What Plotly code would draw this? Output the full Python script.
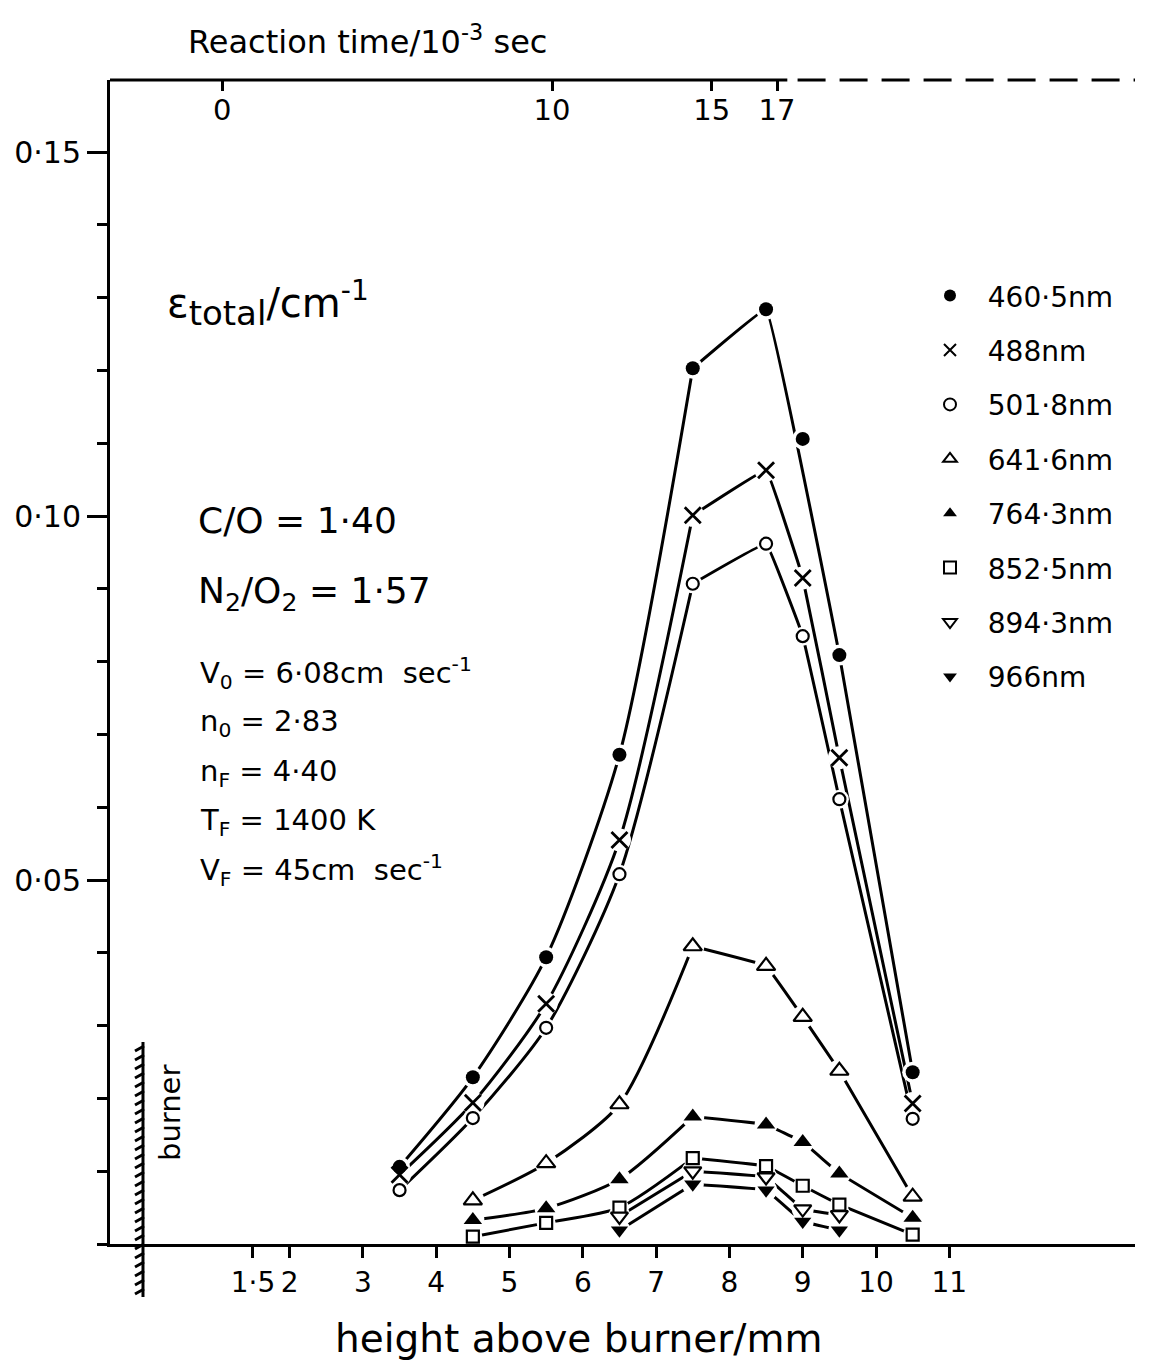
import plotly.graph_objects as go

# ---------------- data ----------------
height_hi = [3.5, 4.5, 5.5, 6.5, 7.5, 8.5, 9.0, 9.5, 10.5]
eps_460_5 = [0.0106, 0.0229, 0.0394, 0.0672, 0.1203, 0.1284, 0.1106, 0.0809, 0.0236]
eps_488 = [0.0095, 0.0194, 0.0330, 0.0555, 0.1001, 0.1063, 0.0915, 0.0668, 0.0193]
eps_501_8 = [0.0074, 0.0173, 0.0297, 0.0508, 0.0907, 0.0962, 0.0835, 0.0611, 0.0172]

height_lo = [4.5, 5.5, 6.5, 7.5, 8.5, 9.0, 9.5, 10.5]
eps_641_6 = [0.0060, 0.0111, 0.0192, 0.0409, 0.0382, 0.0312, 0.0238, 0.0065]
eps_764_3 = [0.0033, 0.0049, 0.0089, 0.0175, 0.0164, 0.0140, 0.0097, 0.0036]
eps_852_5 = [0.0010, 0.0029, 0.0050, 0.0118, 0.0107, 0.0080, 0.0054, 0.0013]

height_ir = [6.5, 7.5, 8.5, 9.0, 9.5]
eps_894_3 = [0.0038, 0.0100, 0.0092, 0.0048, 0.0040]
eps_966 = [0.0019, 0.0082, 0.0074, 0.0031, 0.0019]

x_tick_vals = [1.5, 2, 3, 4, 5, 6, 7, 8, 9, 10, 11]
x_tick_text = ["1·5", "2", "3", "4", "5", "6", "7", "8", "9", "10", "11"]
y_tick_vals = [0.05, 0.10, 0.15]
y_tick_text = ["0·05", "0·10", "0·15"]
reaction_time_labels = ["0", "10", "15", "17"]
reaction_time_height_pos = [1.08, 5.58, 7.76, 8.65]

FONT = "DejaVu Sans"
BLACK = "#000000"
CORNER_X = 7.5  # curves are smooth on the rising side and straight after the first peak point

series = [
    dict(name="460·5nm", x=height_hi, y=eps_460_5, symbol="circle", size=14, fill=BLACK, lw=0, skip_line=[9.0]),
    dict(name="488nm", x=height_hi, y=eps_488, symbol="x-thin", size=16, fill=BLACK, lw=2.8, skip_line=[]),
    dict(name="501·8nm", x=height_hi, y=eps_501_8, symbol="circle", size=12, fill="white", lw=2.2, skip_line=[]),
    dict(name="641·6nm", x=height_lo, y=eps_641_6, symbol="triangle-up", size=16, fill="white", lw=2.2, skip_line=[]),
    dict(name="764·3nm", x=height_lo, y=eps_764_3, symbol="triangle-up", size=16, fill=BLACK, lw=0, skip_line=[]),
    dict(name="852·5nm", x=height_lo, y=eps_852_5, symbol="square", size=12, fill="white", lw=2.2, skip_line=[]),
    dict(name="894·3nm", x=height_ir, y=eps_894_3, symbol="triangle-down", size=15, fill="white", lw=2.2, skip_line=[]),
    dict(name="966nm", x=height_ir, y=eps_966, symbol="triangle-down", size=15, fill=BLACK, lw=0, skip_line=[]),
]

fig = go.Figure()

# lines: smooth rising part, straight segments from the corner on
for s in series:
    pts = [(xv, yv) for xv, yv in zip(s["x"], s["y"]) if xv not in s["skip_line"]]
    rise = [p for p in pts if p[0] <= CORNER_X]
    fall = [p for p in pts if p[0] >= CORNER_X]
    fig.add_trace(go.Scatter(x=[p[0] for p in rise], y=[p[1] for p in rise], mode="lines",
                             line=dict(color=BLACK, width=3, shape="spline", smoothing=0.7),
                             showlegend=False, hoverinfo="skip"))
    fig.add_trace(go.Scatter(x=[p[0] for p in fall], y=[p[1] for p in fall], mode="lines",
                             line=dict(color=BLACK, width=3, shape="spline", smoothing=0.15),
                             showlegend=False, hoverinfo="skip"))
# white halos around markers (gaps in lines)
for s in series:
    fig.add_trace(go.Scatter(x=s["x"], y=s["y"], mode="markers",
                             marker=dict(symbol="circle", size=s["size"] + 7, color="white"),
                             showlegend=False, hoverinfo="skip"))
# markers
for i, s in enumerate(series):
    mk = dict(symbol=s["symbol"], size=s["size"], color=s["fill"],
              line=dict(color=BLACK, width=s["lw"]))
    fig.add_trace(go.Scatter(x=s["x"], y=s["y"], mode="markers",
                             name="\u00a0\u00a0" + s["name"],
                             marker=mk, legendgroup="g%d" % i, showlegend=True))

# anchor for top axis
fig.add_trace(go.Scatter(x=reaction_time_height_pos, y=[None] * len(reaction_time_height_pos),
                         xaxis="x2", mode="markers", showlegend=False, hoverinfo="skip"))

x_range = [-0.45, 13.533]
y_range = [0, 0.1599]

fig.update_layout(
    width=1154, height=1370,
    margin=dict(l=110, r=19, t=80, b=126),
    paper_bgcolor="white", plot_bgcolor="white",
    font=dict(family=FONT, color=BLACK, size=28),
    xaxis=dict(range=x_range, showgrid=False, zeroline=False, showline=True,
               linecolor=BLACK, linewidth=3, ticks="outside", ticklen=11, tickwidth=3,
               tickcolor=BLACK, tickmode="array", tickvals=x_tick_vals, ticktext=x_tick_text,
               tickfont=dict(size=28, color=BLACK)),
    xaxis2=dict(range=x_range, overlaying="x", side="top", anchor="y", showgrid=False,
                zeroline=False, showline=False, ticks="inside", ticklen=11, tickwidth=3,
                tickcolor=BLACK, tickmode="array", tickvals=reaction_time_height_pos,
                ticktext=reaction_time_labels, ticklabelposition="inside",
                ticklabelstandoff=12, tickfont=dict(size=29, color=BLACK)),
    yaxis=dict(range=y_range, showgrid=False, zeroline=False, showline=True,
               linecolor=BLACK, linewidth=3, ticks="outside", ticklen=20, tickwidth=3,
               tickcolor=BLACK, tickmode="array", tickvals=y_tick_vals, ticktext=y_tick_text,
               tickfont=dict(size=30, color=BLACK),
               minor=dict(tick0=0, dtick=0.01, ticks="outside", ticklen=10, tickwidth=3,
                          tickcolor=BLACK, showgrid=False)),
    legend=dict(x=0.8, y=0.836, xanchor="left", yanchor="top", bgcolor="rgba(0,0,0,0)",
                font=dict(size=28, color=BLACK), tracegroupgap=15, itemsizing="constant",
                traceorder="grouped"),
)

# ---- top axis line: solid then dashed ----
fig.add_shape(type="line", xref="x", yref="paper", x0=x_range[0] - 0.14,
              x1=reaction_time_height_pos[-1] + 0.14, y0=1, y1=1,
              line=dict(color=BLACK, width=3))
fig.add_shape(type="line", xref="x", yref="paper", x0=reaction_time_height_pos[-1] + 0.28,
              x1=x_range[1], y0=1, y1=1,
              line=dict(color=BLACK, width=3, dash="28px,14px"))

# ---- burner (hatched wall at x = 0) ----
def px(xp):
    return (xp - 110) / 1025.0

def py(yp):
    return (1244 - yp) / 1164.0

fig.add_shape(type="line", xref="x", yref="paper", x0=0, x1=0, y0=py(1042), y1=py(1297),
              line=dict(color=BLACK, width=3))
path = ""
yy = 1046
while yy < 1296:
    path += "M %.5f,%.5f L %.5f,%.5f " % (px(144), py(yy), px(135), py(yy + 5))
    yy += 9
fig.add_shape(type="path", xref="paper", yref="paper", path=path,
              line=dict(color=BLACK, width=3))

fig.add_annotation(xref="paper", yref="paper", x=px(170), y=py(1113), text="burner",
                   textangle=-90, showarrow=False, font=dict(size=29),
                   xanchor="center", yanchor="middle")

# ---- titles and text ----
fig.add_annotation(xref="paper", yref="paper", x=px(186), y=py(40),
                   text="Reaction time/10<sup>-3</sup> sec", showarrow=False,
                   xanchor="left", yanchor="middle", font=dict(size=32))
fig.add_annotation(xref="paper", yref="paper", x=px(578), y=py(1338),
                   text="height above burner/mm", showarrow=False,
                   xanchor="center", yanchor="middle", font=dict(size=39))
fig.add_annotation(xref="paper", yref="paper", x=px(165), y=py(303),
                   text="ε<sub><span style='font-size:34px'>total</span></sub>/cm<sup>-1</sup>",
                   showarrow=False, xanchor="left", yanchor="middle", font=dict(size=40))

fig.add_annotation(xref="paper", yref="paper", x=px(196), y=py(520),
                   text="C/O = 1·40", showarrow=False,
                   xanchor="left", yanchor="middle", font=dict(size=36))
fig.add_annotation(xref="paper", yref="paper", x=px(196), y=py(593),
                   text="N<sub>2</sub>/O<sub>2</sub> = 1·57", showarrow=False,
                   xanchor="left", yanchor="middle", font=dict(size=36))

cond_text = ["V<sub>0</sub> = 6·08cm  sec<sup>-1</sup>",
             "n<sub>0</sub> = 2·83",
             "n<sub>F</sub> = 4·40",
             "T<sub>F</sub> = 1400 K",
             "V<sub>F</sub> = 45cm  sec<sup>-1</sup>"]
cond_y = [673, 723, 773, 822, 870]
for t, yp in zip(cond_text, cond_y):
    fig.add_annotation(xref="paper", yref="paper", x=px(198), y=py(yp), text=t,
                       showarrow=False, xanchor="left", yanchor="middle", font=dict(size=29))

fig.write_html("out.html")
